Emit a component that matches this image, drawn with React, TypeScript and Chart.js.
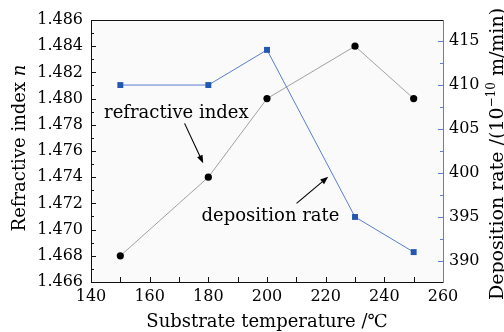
import { useEffect, useRef } from 'react';
import { Chart, registerables } from 'chart.js';

Chart.register(...registerables);

// ---- data ----
const temperatures = [150, 180, 200, 230, 250];
const refractiveIndex = [1.468, 1.474, 1.48, 1.484, 1.48];
const depositionRate = [410, 410, 414, 395, 391];

const xTickLabels = [140, 160, 180, 200, 220, 240, 260];
const leftTickLabels = [1.466, 1.468, 1.47, 1.472, 1.474, 1.476, 1.478, 1.48, 1.482, 1.484, 1.486];
const rightTickLabels = [390, 395, 400, 405, 410, 415];

const xMinorTicks = [150, 160, 170, 180, 190, 200, 210, 220, 230, 240, 250];
const leftMinorTicks = [1.467, 1.469, 1.471, 1.473, 1.475, 1.477, 1.479, 1.481, 1.483, 1.485];
const rightMinorTicks = [392.5, 397.5, 402.5, 407.5, 412.5];

const xTitle = 'Substrate temperature /℃';
const leftTitle = 'Refractive index ';
const leftTitleItalic = 'n';
const rightTitleParts = ['Deposition rate /(10', '−10', ' m/min)'];

const annotations = [
  { text: 'refractive index', x: 169.1, y: 1.4789, from: [171.9, 1.47811], to: [178.25, 1.47506] },
  { text: 'deposition rate', x: 201.2, y: 1.47098, from: [210.07, 1.472], to: [220.87, 1.47404] },
];

const FONT = 'DejaVu Serif';
const BLUE_LINE = '#5a7fd0';
const BLUE_MARK = '#2457b0';

function drawArrow(ctx: CanvasRenderingContext2D, x1: number, y1: number, x2: number, y2: number) {
  const ang = Math.atan2(y2 - y1, x2 - x1);
  const hl = 8;
  const hw = 3;
  ctx.beginPath();
  ctx.moveTo(x1, y1);
  ctx.lineTo(x2 - Math.cos(ang) * hl * 0.8, y2 - Math.sin(ang) * hl * 0.8);
  ctx.strokeStyle = '#000';
  ctx.lineWidth = 1.1;
  ctx.stroke();
  ctx.beginPath();
  ctx.moveTo(x2, y2);
  ctx.lineTo(x2 - Math.cos(ang) * hl + Math.sin(ang) * hw, y2 - Math.sin(ang) * hl - Math.cos(ang) * hw);
  ctx.lineTo(x2 - Math.cos(ang) * hl - Math.sin(ang) * hw, y2 - Math.sin(ang) * hl + Math.cos(ang) * hw);
  ctx.closePath();
  ctx.fillStyle = '#000';
  ctx.fill();
}

const decorPlugin = {
  id: 'decor',
  beforeDraw(chart: any) {
    const { ctx, chartArea: a } = chart;
    ctx.save();
    ctx.fillStyle = '#fafafa';
    ctx.fillRect(a.left, a.top, a.right - a.left, a.bottom - a.top);
    ctx.restore();
  },
  afterDraw(chart: any) {
    const { ctx, chartArea: a, scales } = chart;
    const xs = scales.x;
    const yl = scales.y;
    const yr = scales.y1;
    ctx.save();
    // box
    ctx.lineWidth = 1;
    ctx.strokeStyle = '#111';
    ctx.beginPath();
    ctx.moveTo(a.right, a.top + 0.5);
    ctx.lineTo(a.left + 0.5, a.top + 0.5);
    ctx.lineTo(a.left + 0.5, a.bottom + 0.5);
    ctx.lineTo(a.right, a.bottom + 0.5);
    ctx.stroke();
    ctx.strokeStyle = BLUE_LINE;
    ctx.beginPath();
    ctx.moveTo(a.right + 0.5, a.top);
    ctx.lineTo(a.right + 0.5, a.bottom + 1);
    ctx.stroke();

    // ticks
    ctx.strokeStyle = '#111';
    ctx.beginPath();
    xMinorTicks.forEach((v) => {
      const px = Math.round(xs.getPixelForValue(v)) + 0.5;
      ctx.moveTo(px, a.bottom);
      ctx.lineTo(px, a.bottom - 5);
    });
    leftTickLabels.forEach((v) => {
      const py = Math.round(yl.getPixelForValue(v)) + 0.5;
      ctx.moveTo(a.left, py);
      ctx.lineTo(a.left + 5, py);
    });
    leftMinorTicks.forEach((v) => {
      const py = Math.round(yl.getPixelForValue(v)) + 0.5;
      ctx.moveTo(a.left, py);
      ctx.lineTo(a.left + 3, py);
    });
    ctx.stroke();
    ctx.strokeStyle = BLUE_LINE;
    ctx.beginPath();
    rightTickLabels.forEach((v) => {
      const py = Math.round(yr.getPixelForValue(v)) + 0.5;
      ctx.moveTo(a.right, py);
      ctx.lineTo(a.right - 5, py);
    });
    rightMinorTicks.forEach((v) => {
      const py = Math.round(yr.getPixelForValue(v)) + 0.5;
      ctx.moveTo(a.right, py);
      ctx.lineTo(a.right - 3, py);
    });
    ctx.stroke();

    // annotations
    ctx.fillStyle = '#000';
    ctx.font = `18px "${FONT}"`;
    ctx.textAlign = 'center';
    ctx.textBaseline = 'middle';
    annotations.forEach((an) => {
      ctx.fillText(an.text, xs.getPixelForValue(an.x), yl.getPixelForValue(an.y));
      drawArrow(
        ctx,
        xs.getPixelForValue(an.from[0]),
        yl.getPixelForValue(an.from[1]),
        xs.getPixelForValue(an.to[0]),
        yl.getPixelForValue(an.to[1])
      );
    });

    // x title
    ctx.fillStyle = '#000';
    ctx.font = `18px "${FONT}"`;
    ctx.textAlign = 'center';
    ctx.textBaseline = 'middle';
    ctx.fillText(xTitle, (a.left + a.right) / 2, 322);

    // left title
    ctx.save();
    ctx.translate(20, 148);
    ctx.rotate(-Math.PI / 2);
    ctx.font = `18px "${FONT}"`;
    const w1 = ctx.measureText(leftTitle).width;
    ctx.font = `italic 18px "${FONT}"`;
    const w2 = ctx.measureText(leftTitleItalic).width;
    const start = -(w1 + w2) / 2;
    ctx.textAlign = 'left';
    ctx.font = `18px "${FONT}"`;
    ctx.fillText(leftTitle, start, 0);
    ctx.font = `italic 18px "${FONT}"`;
    ctx.fillText(leftTitleItalic, start + w1, 0);
    ctx.restore();

    // right title
    ctx.save();
    ctx.translate(498, 154);
    ctx.rotate(-Math.PI / 2);
    ctx.textAlign = 'left';
    ctx.font = `19px "${FONT}"`;
    const r0 = ctx.measureText(rightTitleParts[0]).width;
    const r2 = ctx.measureText(rightTitleParts[2]).width;
    ctx.font = `12px "${FONT}"`;
    const r1 = ctx.measureText(rightTitleParts[1]).width;
    let sx = -(r0 + r1 + r2) / 2;
    ctx.font = `19px "${FONT}"`;
    ctx.fillText(rightTitleParts[0], sx, 0);
    sx += r0;
    ctx.font = `12px "${FONT}"`;
    ctx.fillText(rightTitleParts[1], sx, -6);
    sx += r1;
    ctx.font = `19px "${FONT}"`;
    ctx.fillText(rightTitleParts[2], sx, 0);
    ctx.restore();

    ctx.restore();
  },
};

export default function App() {
  const canvasRef = useRef<HTMLCanvasElement | null>(null);

  useEffect(() => {
    document.body.style.margin = '0';
    const canvas = canvasRef.current;
    if (!canvas) return;
    const tickFont = { family: FONT, size: 16 };
    const chart = new Chart(canvas, {
      type: 'line',
      data: {
        datasets: [
          {
            label: 'refractive index',
            data: temperatures.map((t, i) => ({ x: t, y: refractiveIndex[i] })),
            yAxisID: 'y',
            borderColor: '#8a8a8a',
            borderWidth: 0.8,
            pointStyle: 'circle',
            pointRadius: 3.6,
            pointBackgroundColor: '#000',
            pointBorderColor: '#000',
            pointBorderWidth: 0,
            tension: 0,
          },
          {
            label: 'deposition rate',
            data: temperatures.map((t, i) => ({ x: t, y: depositionRate[i] })),
            yAxisID: 'y1',
            borderColor: BLUE_LINE,
            borderWidth: 1,
            pointStyle: 'rect',
            pointRadius: 4.2,
            pointBackgroundColor: BLUE_MARK,
            pointBorderColor: BLUE_MARK,
            pointBorderWidth: 0,
            tension: 0,
          },
        ],
      },
      options: {
        animation: false,
        responsive: false,
        layout: { padding: { top: 20, left: 0, right: 0, bottom: 0 } },
        plugins: { legend: { display: false }, tooltip: { enabled: false } },
        scales: {
          x: {
            type: 'linear',
            min: 140,
            max: 260,
            afterBuildTicks: (s: any) => {
              s.ticks = xTickLabels.map((v) => ({ value: v }));
            },
            afterFit: (s: any) => {
              s.height = 50;
            },
            ticks: { font: tickFont, color: '#000', padding: 5, maxRotation: 0, autoSkip: false },
            grid: { display: false, drawTicks: false },
            border: { display: false },
          },
          y: {
            type: 'linear',
            position: 'left',
            min: 1.466,
            max: 1.486,
            afterBuildTicks: (s: any) => {
              s.ticks = leftTickLabels.map((v) => ({ value: v }));
            },
            afterFit: (s: any) => {
              s.width = 91;
            },
            ticks: {
              font: tickFont,
              color: '#000',
              padding: 8,
              autoSkip: false,
              callback: (v: any) => Number(v).toFixed(3),
            },
            grid: { display: false, drawTicks: false },
            border: { display: false },
          },
          y1: {
            type: 'linear',
            position: 'right',
            min: 387.6,
            max: 417.4,
            afterBuildTicks: (s: any) => {
              s.ticks = rightTickLabels.map((v) => ({ value: v }));
            },
            afterFit: (s: any) => {
              s.width = 61;
            },
            ticks: { font: tickFont, color: '#000', padding: 6, autoSkip: false },
            grid: { display: false, drawTicks: false },
            border: { display: false },
          },
        },
      },
      plugins: [decorPlugin],
    } as any);
    return () => chart.destroy();
  }, []);

  return (
    <div style={{ width: 504, height: 332 }}>
      <canvas ref={canvasRef} width={504} height={332} />
    </div>
  );
}
